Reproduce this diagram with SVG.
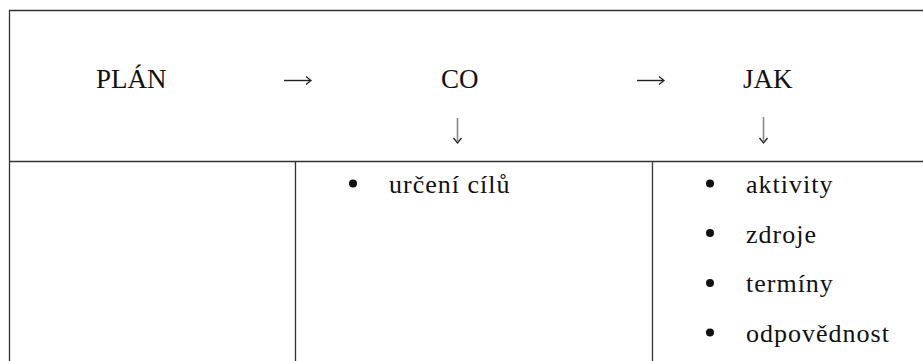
<svg xmlns="http://www.w3.org/2000/svg" width="923" height="361" viewBox="0 0 923 361">
<style>
.t{font-family:"Liberation Serif","Times New Roman",serif;font-size:27px;fill:#111}
.li{font-family:"Liberation Serif","Times New Roman",serif;font-size:26px;letter-spacing:1px;fill:#111}
.ln{stroke:#333;stroke-width:1.3;fill:none}
.sh{stroke:#222;stroke-width:1.4;fill:none}
.sv{stroke:#888;stroke-width:1.6;fill:none}
.hd{stroke:#222;stroke-width:1.3;fill:none;stroke-linejoin:miter}
.b{fill:#111}
</style>
<rect width="923" height="361" fill="#fff"/>
<g id="table">
<path class="ln" d="M9.5 361V10.5H923M9.5 161.5H923M295.5 161.5V361M652.5 161.5V361"/>
</g>
<g id="plan"><text class="t" x="96" y="88">PLÁN</text></g>
<g id="co"><text class="t" x="441" y="88">CO</text></g>
<g id="jak"><text class="t" x="743" y="88">JAK</text></g>
<g id="connectors">
<path class="sh" d="M284 80.5H310"/>
<path class="hd" d="M306 76.5L311 80.5L306 84.5"/>
<path class="sh" d="M637 80.5H663"/>
<path class="hd" d="M659 76.5L664 80.5L659 84.5"/>
<path class="sv" d="M457.5 118V141"/>
<path class="hd" d="M453.5 138L457.5 143L461.5 138"/>
<path class="sv" d="M763.5 117V141"/>
<path class="hd" d="M759.5 138L763.5 143L767.5 138"/>
</g>
<g id="co-list">
<circle class="b" cx="353" cy="183.5" r="4"/>
<text class="li" x="389" y="193">určení cílů</text>
</g>
<g id="jak-list">
<circle class="b" cx="710" cy="183.5" r="4"/>
<text class="li" x="746" y="193">aktivity</text>
<circle class="b" cx="710" cy="233" r="4"/>
<text class="li" x="746" y="242.5">zdroje</text>
<circle class="b" cx="710" cy="283" r="4"/>
<text class="li" x="746" y="292">termíny</text>
<circle class="b" cx="710" cy="332.5" r="4"/>
<text class="li" x="746" y="342">odpovědnost</text>
</g>
</svg>
